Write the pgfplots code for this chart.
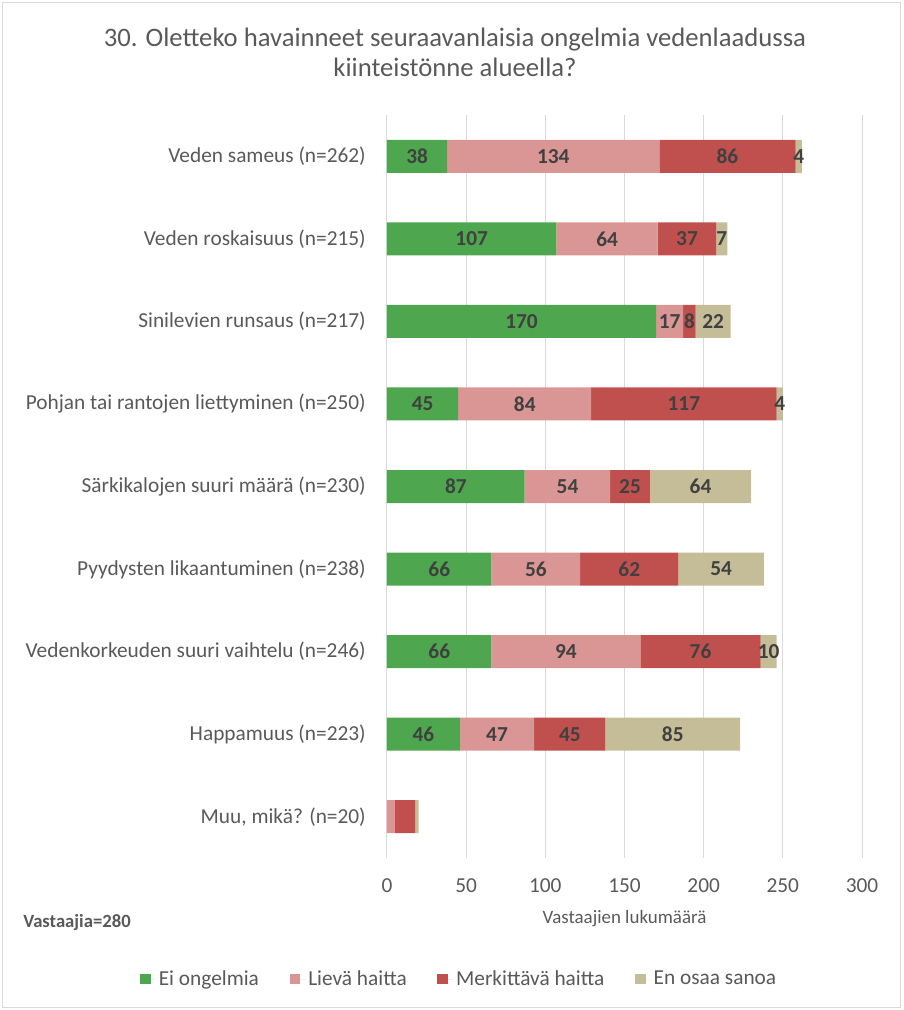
\documentclass[border=0pt]{standalone}
\usepackage{fontspec}
\setmainfont{Carlito}
\usepackage{pgfplots}
\usepackage{pgfplotstable}
\pgfplotsset{compat=1.18}
\definecolor{cgreen}{RGB}{78,167,78}
\definecolor{cpink}{RGB}{218,150,148}
\definecolor{cred}{RGB}{192,80,77}
\definecolor{ctan}{RGB}{196,189,151}
\definecolor{tgray}{RGB}{89,89,89}
\definecolor{lgray}{RGB}{64,64,64}
\definecolor{gridc}{RGB}{217,217,217}

\pgfplotstableread{
cat a b c d
0 38 134 86 4
1 107 64 37 7
2 170 17 8 22
3 45 84 117 4
4 87 54 25 64
5 66 56 62 54
6 66 94 76 10
7 46 47 45 85
8 0 5 13 2
}\data

\pgfplotsset{
  common/.style={
    at={(0,0)}, anchor=south west,
    scale only axis, width=356.25pt, height=557.25pt,
    xmin=0, xmax=300, ymin=-0.5, ymax=8.5, y dir=reverse,
  }
}

\begin{document}
\begin{tikzpicture}
\useasboundingbox (-290.25pt,-114pt) rectangle (387pt,643.5pt);
\draw[gridc, line width=0.75pt] (-288pt,-111.75pt) rectangle (384.75pt,641.25pt);
\begin{axis}[
  common,
  xbar stacked, bar width=24.75pt,
  xtick={0,50,...,300}, ytick={0,...,8},
  yticklabels={Veden sameus (n=262), Veden roskaisuus (n=215), Sinilevien runsaus (n=217), Pohjan tai rantojen liettyminen (n=250), Särkikalojen suuri määrä (n=230), Pyydysten likaantuminen (n=238), Vedenkorkeuden suuri vaihtelu (n=246), Happamuus (n=223), {Muu, mikä? (n=20)}},
  axis line style={draw=none}, major tick length=0pt,
  xmajorgrids, grid style={gridc, line width=0.75pt},
  /pgf/number format/assume math mode=true,
  tick label style={font=\fontsize{16}{19}\selectfont, text=tgray},
  yticklabel style={inner sep=0pt, xshift=-15.75pt},
  xticklabel style={inner sep=0pt, yshift=-15pt},
  xlabel={Vastaajien lukumäärä},
  xlabel style={at={(axis description cs:0.5,-0.0875)}, anchor=base, font=\fontsize{14.2}{17}\selectfont, text=tgray, inner sep=0pt},
  legend columns=4,
  legend style={at={(0.1527,-0.1629)}, anchor=center, draw=none, font=\fontsize{16}{19}\selectfont, text=tgray,
    /tikz/every even column/.append style={column sep=21pt}},
  legend image code/.code={\fill[#1] (0pt,-4pt) rectangle (8pt,4pt); \path (8pt,0pt) -- (12pt,0pt);},
]
\addplot[fill=cgreen, draw=none] table[x=a, y=cat] {\data};
\addplot[fill=cpink, draw=none] table[x=b, y=cat] {\data};
\addplot[fill=cred, draw=none] table[x=c, y=cat] {\data};
\addplot[fill=ctan, draw=none] table[x=d, y=cat] {\data};
\legend{Ei ongelmia, Lievä haitta, Merkittävä haitta, En osaa sanoa}
\end{axis}
\begin{axis}[
  common, hide axis,
  nodes near coords, point meta=explicit symbolic,
  nodes near coords align={center},
  every node near coord/.append style={font=\bfseries\fontsize{16}{19}\selectfont, text=lgray, inner sep=0pt},
]
\addplot[draw=none, mark=none, skip coords between index={8}{9}] table[x expr=\thisrow{a}/2, y=cat, meta=a] {\data};
\addplot[draw=none, mark=none, skip coords between index={8}{9}] table[x expr=\thisrow{a}+\thisrow{b}/2, y=cat, meta=b] {\data};
\addplot[draw=none, mark=none, skip coords between index={8}{9}] table[x expr=\thisrow{a}+\thisrow{b}+\thisrow{c}/2, y=cat, meta=c] {\data};
\addplot[draw=none, mark=none, skip coords between index={8}{9}] table[x expr=\thisrow{a}+\thisrow{b}+\thisrow{c}+\thisrow{d}/2, y=cat, meta=d] {\data};
\end{axis}
\node[anchor=base, font=\fontsize{20}{24}\selectfont, text=tgray] at (51pt,608.25pt) {30. Oletteko havainneet seuraavanlaisia ongelmia vedenlaadussa};
\node[anchor=base, font=\fontsize{20}{24}\selectfont, text=tgray] at (51pt,585.75pt) {kiinteistönne alueella?};
\node[anchor=base west, inner sep=0pt, font=\bfseries\fontsize{14}{17}\selectfont, text=tgray] at (-273pt,-51.75pt) {Vastaajia=280};
\end{tikzpicture}
\end{document}
